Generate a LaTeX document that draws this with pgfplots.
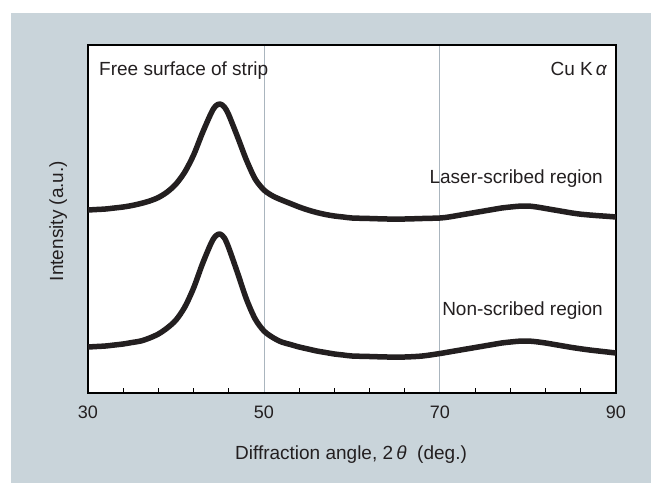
\documentclass[border=0pt]{standalone}
\usepackage{fontspec}
\setmainfont{Liberation Sans}
\usepackage{pgfplots}
\pgfplotsset{compat=1.18}
\definecolor{bgcol}{RGB}{201,212,218}
\definecolor{gridcol}{RGB}{170,181,190}
\definecolor{curvecol}{RGB}{35,31,32}
\definecolor{txtcol}{RGB}{35,31,32}
\begin{document}
\begin{tikzpicture}[x=1pt,y=1pt]
\useasboundingbox (0,0) rectangle (651,483);
\fill[bgcol] (11,0) rectangle (651,470);
\begin{axis}[
  at={(88pt,90pt)}, anchor=south west,
  width=528pt, height=348pt, scale only axis,
  xmin=30, xmax=90, ymin=0, ymax=348,
  xtick={30,50,70,90},
  minor xtick={34,38,42,46,54,58,62,66,74,78,82,86},
  ytick=\empty,
  major tick length=0pt,
  minor tick length=5pt,
  tick align=inside,
  tick pos=left,
  xmajorgrids,
  major grid style={gridcol, line width=1pt},
  axis line style={line width=1.5pt, black},
  every minor tick/.append style={black, line width=1pt},
  xticklabel style={font=\fontsize{18}{18}\selectfont, text=txtcol, inner sep=0pt, yshift=-13pt},
  /pgf/number format/assume math mode=true,
  axis background/.style={fill=white},
]
\addplot[curvecol, line width=5.5pt, line join=round, smooth] coordinates {
(30,183) (31,183.5) (32,184) (33,185) (34,186) (35,187.5) (36,189.5) (37,192)
(38,195.5) (39,201) (40,209) (41,221) (42,238) (43,260) (44,280) (44.5,287)
(45,289) (45.5,286) (46,278) (47,256) (48,233) (49,214) (50,203) (51,197)
(52,193) (53,189.5) (54,186) (55,183) (56,180.5) (57,178.5) (58,177) (59,176)
(60,175) (62,174.5) (64,174) (66,174) (68,174.5) (70,175) (71,176) (72,177.5)
(73,179) (74,180.5) (75,182) (76,183.5) (77,185) (78,186) (79,186.8) (80,187)
(81,186) (82,184.5) (83,183) (84,181.5) (85,180) (86,178.8) (87,178) (88,177.3)
(89,176.7) (90,176)
};
\addplot[curvecol, line width=5.5pt, line join=round, smooth] coordinates {
(30,46) (31,46.5) (32,47) (33,48) (34,49) (35,50.5) (36,52) (37,55)
(38,59) (39,65) (40,73) (41,86) (42,105) (43,129) (44,150) (44.5,157)
(45,159) (45.5,155) (46,145) (47,120) (48,94) (49,74) (50,62) (51,55.5)
(52,51) (53,48.5) (54,46) (55,44) (56,42) (57,40.5) (58,39) (59,38)
(60,37) (62,36.5) (64,36) (66,36) (68,37) (70,39.5) (71,41) (72,42.5)
(73,44) (74,45.5) (75,47) (76,48.5) (77,50) (78,51) (79,51.8) (80,52)
(81,51.2) (82,50) (83,48.5) (84,47) (85,45.5) (86,44.2) (87,43) (88,42)
(89,41) (90,40)
};
\end{axis}
\begin{scope}[every node/.style={text=txtcol, inner sep=0pt, font=\fontsize{19}{19}\selectfont}]
\node[anchor=base west] at (99,407) {Free surface of strip};
\node[anchor=base east] at (607,407) {Cu K\,{\itshape α}};
\node[anchor=base east] at (603,300) {Laser-scribed region};
\node[anchor=base east] at (603,168) {Non-scribed region};
\node[anchor=base] at (351,24) {Diffraction angle, 2\,{\itshape θ}\ \ (deg.)};
\node[anchor=base, rotate=90] at (63,262) {Intensity (a.u.)};
\end{scope}
\end{tikzpicture}
\end{document}
